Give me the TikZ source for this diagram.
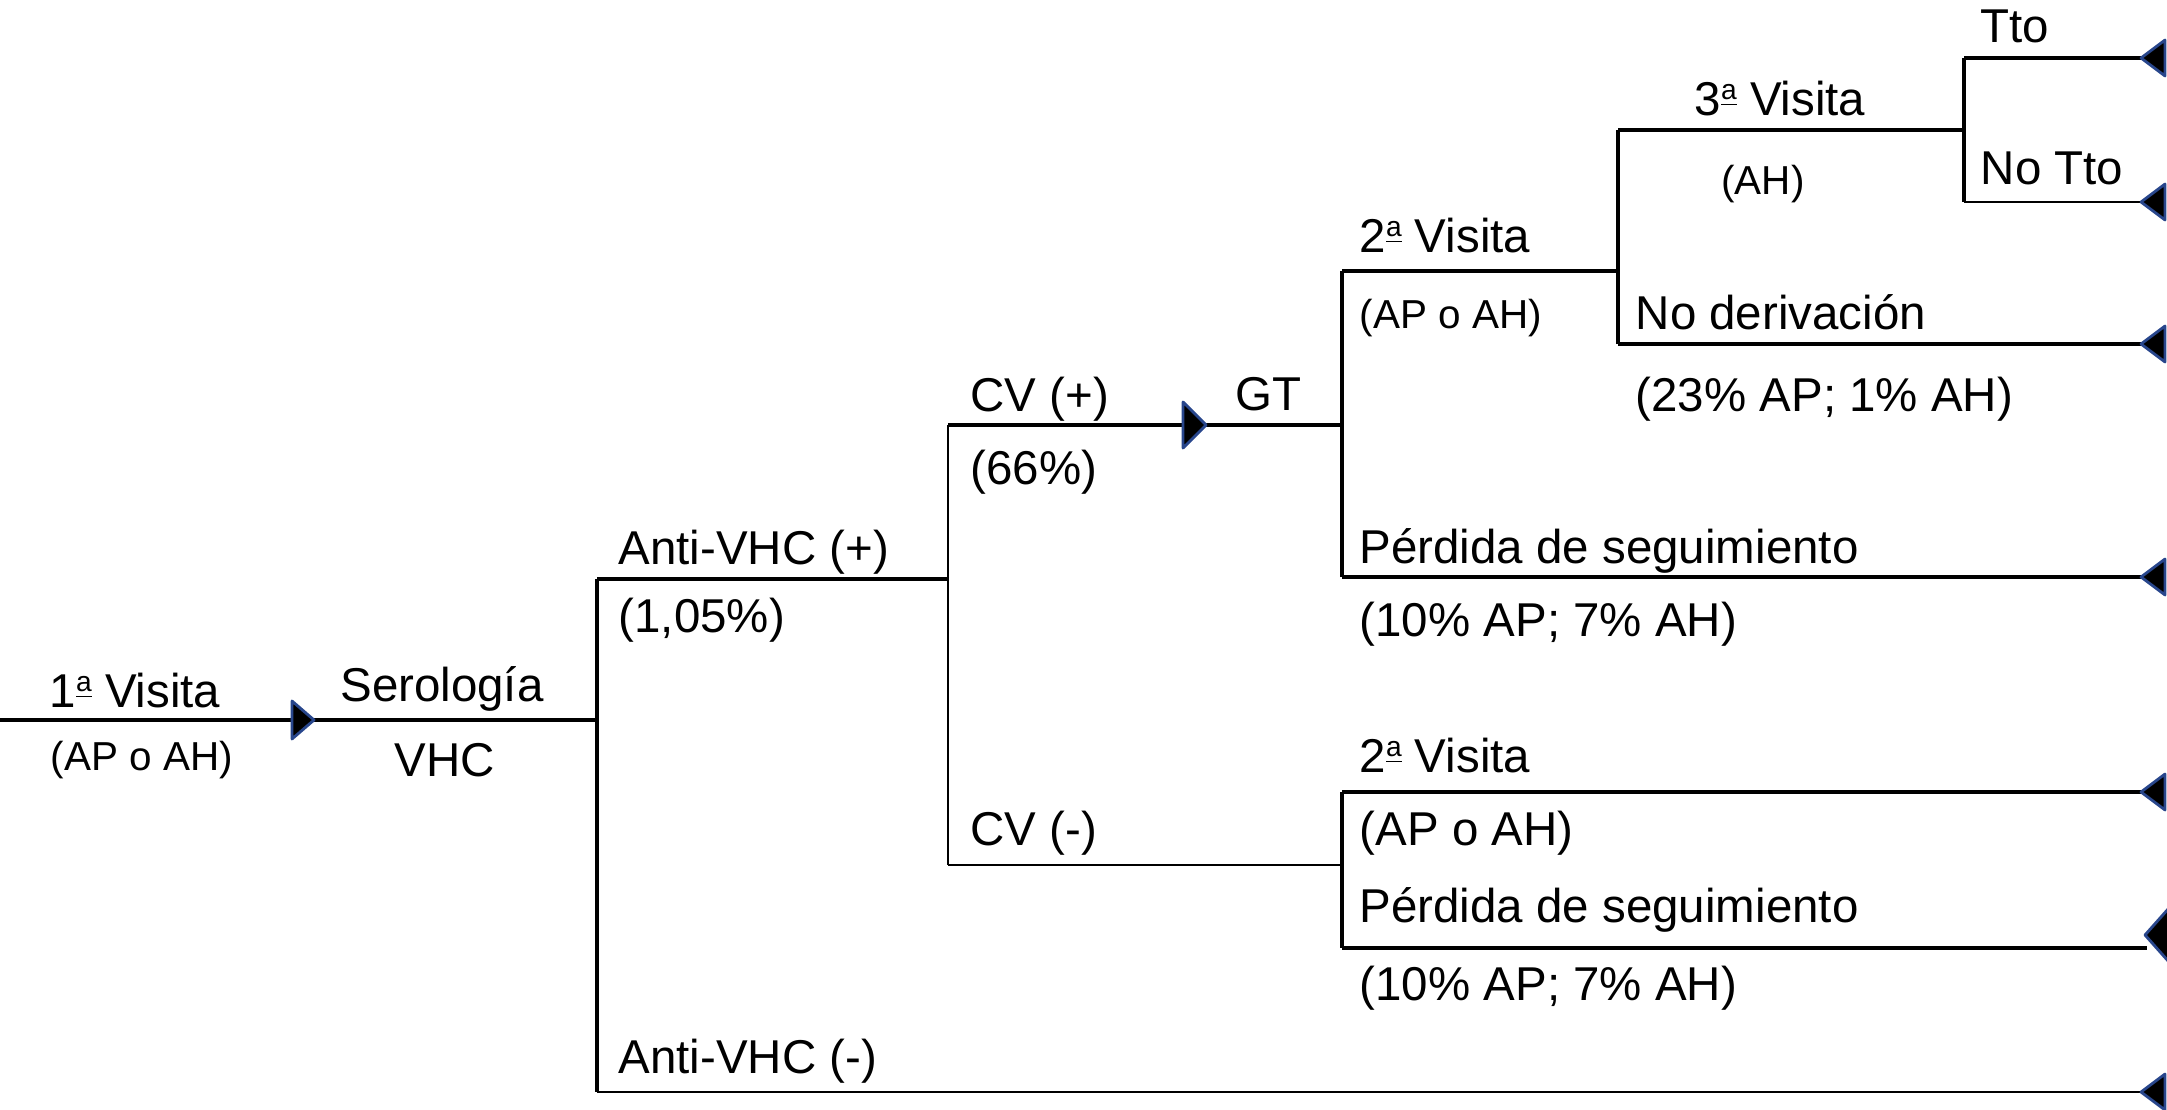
\documentclass[tikz,border=0pt]{standalone}
\usepackage{fontspec}
\setmainfont{Liberation Sans}
\definecolor{mblue}{RGB}{40,70,140}
\newcommand{\ordA}{\raisebox{0.62ex}{\fontsize{8}{9}\selectfont\underline{a}}}
\begin{document}
\begin{tikzpicture}[x=0.01cm,y=-0.01cm,
  big/.style={font=\fontsize{13.5}{16}\selectfont, inner sep=0pt, anchor=base west},
  small/.style={font=\fontsize{11.5}{14}\selectfont, inner sep=0pt, anchor=base west},
  branch/.style={line width=1.05pt},
  thinbranch/.style={line width=0.65pt},
  rmark/.style={fill=black, draw=mblue, line width=0.8pt, line join=round},
]
\useasboundingbox (0,0) rectangle (2167,1109);

% junction coordinates
\coordinate (start) at (0,720);
\coordinate (sero) at (597,720);
\coordinate (sTop) at (597,579);
\coordinate (sBot) at (597,1092);
\coordinate (avpEnd) at (948,579);
\coordinate (cvTop) at (948,425);
\coordinate (cvBot) at (948,865);
\coordinate (gtJ) at (1342,425);
\coordinate (gtTop) at (1342,271);
\coordinate (gtBot) at (1342,577);
\coordinate (v2J) at (1618,271);
\coordinate (v2Top) at (1618,130);
\coordinate (v2Bot) at (1618,344);
\coordinate (v3J) at (1964,130);
\coordinate (v3Top) at (1964,58);
\coordinate (v3Bot) at (1964,202);
\coordinate (lowJ) at (1342,865);
\coordinate (lowTop) at (1342,792);
\coordinate (lowBot) at (1342,948);
% end points (marker tips)
\coordinate (eTto) at (2141,58);
\coordinate (eNoTto) at (2141,202);
\coordinate (eNoDer) at (2141,344);
\coordinate (ePer1) at (2141,577);
\coordinate (eV2b) at (2141,792);
\coordinate (ePer2) at (2147,948);
\coordinate (eAvm) at (2141,1092);
% inline markers (tips)
\coordinate (m1) at (314,720);
\coordinate (m2) at (1206,425);

% branches
\draw[branch] (start) -- (sero);
\draw[branch] (sTop) -- (sBot);
\draw[branch] (sTop) -- (avpEnd);
\draw[thinbranch] (sBot) -- (eAvm);
\draw[thinbranch] (cvTop) -- (cvBot);
\draw[branch] (cvTop) -- (gtJ);
\draw[thinbranch] (cvBot) -- (lowJ);
\draw[branch] (gtTop) -- (gtBot);
\draw[branch] (gtTop) -- (v2J);
\draw[branch] (gtBot) -- (ePer1);
\draw[branch] (v2Top) -- (v2Bot);
\draw[branch] (v2Top) -- (v3J);
\draw[branch] (v2Bot) -- (eNoDer);
\draw[branch] (v3Top) -- (v3Bot);
\draw[branch] (v3Top) -- (eTto);
\draw[thinbranch] (v3Bot) -- (eNoTto);
\draw[branch] (lowTop) -- (lowBot);
\draw[branch] (lowTop) -- (eV2b);
\draw[branch] (lowBot) -- (ePer2);

% markers
\draw[rmark,shift={(m1)}] (0,0) -- (-22,-19) -- (-22,19) -- cycle;
\draw[rmark,shift={(m2)}] (0,0) -- (-23,-23) -- (-23,23) -- cycle;
\foreach \e in {eTto,eNoTto,eNoDer,ePer1,eV2b,eAvm}
  \draw[rmark,shift={(\e)}] (0,0) -- (24,-18) -- (24,18) -- cycle;
\draw[rmark,shift={(2145,935)}] (0,0) -- (24,-27) -- (24,27) -- cycle;

% labels
\node[big,anchor=base] (v1) at (135,707) {1\ordA\ Visita};
\node[small,anchor=base] (v1s) at (142,770) {(AP o AH)};
\node[big,anchor=base] (ser) at (442,701) {Serología};
\node[big,anchor=base] (vhc) at (445,776) {VHC};
\node[big] (avp) at (618,564) {Anti-VHC (+)};
\node[big] (avpp) at (618,632) {(1,05\%)};
\node[big] (cvp) at (970,411) {CV (+)};
\node[big] (cvpp) at (970,484) {(66\%)};
\node[big] (gt) at (1235,410) {GT};
\node[big] (cvm) at (970,845) {CV (-)};
\node[big] (avm) at (618,1073) {Anti-VHC (-)};
\node[big] (v2) at (1359,252) {2\ordA\ Visita};
\node[small] (v2s) at (1359,328) {(AP o AH)};
\node[big] (per1) at (1359,563) {Pérdida de seguimiento};
\node[big] (per1p) at (1359,636) {(10\% AP; 7\% AH)};
\node[big,anchor=base] (v3) at (1780,115) {3\ordA\ Visita};
\node[small,anchor=base] (v3s) at (1763,194) {(AH)};
\node[big] (noder) at (1635,329) {No derivación};
\node[big] (noderp) at (1635,411) {(23\% AP; 1\% AH)};
\node[big] (tto) at (1980,42) {Tto};
\node[big] (notto) at (1980,184) {No Tto};
\node[big] (v2b) at (1359,772) {2\ordA\ Visita};
\node[big] (v2bs) at (1359,845) {(AP o AH)};
\node[big] (per2) at (1359,922) {Pérdida de seguimiento};
\node[big] (per2p) at (1359,1000) {(10\% AP; 7\% AH)};
\end{tikzpicture}
\end{document}
